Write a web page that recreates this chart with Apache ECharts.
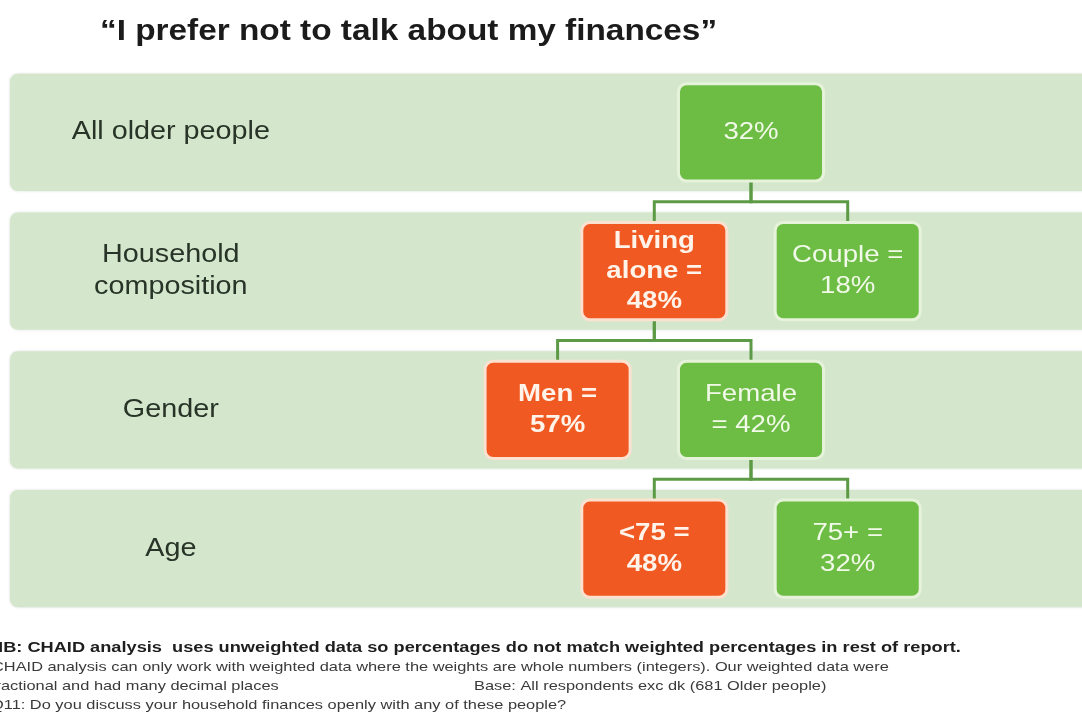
<!DOCTYPE html>
<html>
<head>
<meta charset="utf-8">
<script src="https://cdn.jsdelivr.net/npm/echarts@6.0.0/dist/echarts.min.js"></script>
<style>
  html, body { margin: 0; padding: 0; background: #ffffff; }
  #chart { width: 1082px; height: 719px; }
</style>
</head>
<body>
<div id="chart"></div>
<script>
// Splitting variable shown on each row of the CHAID tree
const rowLabels = ['All older people', 'Household\ncomposition', 'Gender', 'Age'];

// Tree nodes: caption, % who prefer not to talk about finances, parent node, above-average flag
const nodeCaptions = ['', 'Living\nalone =\n', 'Couple =\n', 'Men =\n', 'Female\n= ', '<75 =\n', '75+ =\n'];
const nodeValues = [32, 48, 18, 57, 42, 48, 32];
const nodeParents = [-1, 0, 0, 1, 1, 4, 4];
const nodeHigh = [false, true, false, true, false, true, false];

const titleText = '\u201CI prefer not to talk about my finances\u201D';
const noteBold = 'NB: CHAID analysis  uses unweighted data so percentages do not match weighted percentages in rest of report.';
const noteLines = [
  'CHAID analysis can only work with weighted data where the weights are whole numbers (integers). Our weighted data were',
  'fractional and had many decimal places',
  'Q11: Do you discuss your household finances openly with any of these people?'
];
const noteBase = 'Base: All respondents exc dk (681 Older people)';

// ---- tree layout: depth = row, column = parent column +/- 1 per sibling ----
const depth = [], column = [];
nodeParents.forEach((p, i) => {
  if (p < 0) { depth[i] = 0; column[i] = 0; return; }
  const siblings = nodeParents.map((q, j) => q === p ? j : -1).filter(j => j >= 0);
  const k = siblings.indexOf(i);
  depth[i] = depth[p] + 1;
  column[i] = column[p] + (k - (siblings.length - 1) / 2) * 2;
});

const STRETCH = 1.15;
const NOTE_STRETCH = 1.26;
const FONT = '"Liberation Sans", Arial, sans-serif';
const GREEN = '#6dbd45', ORANGE = '#f05a22', BAND = '#d4e7cc', LINK = '#5c9a46';
const NODE_W = 1.5, NODE_H = 0.70, BAND_H = 0.845;

function note(text, x, y, bold) {
  return {
    type: 'text', x: x, y: y, scaleX: bold ? 1.30 : NOTE_STRETCH,
    style: { text: text, x: 0, y: 0, textAlign: 'left', textVerticalAlign: 'middle',
             font: (bold ? 'bold 14px ' : '13px ') + FONT, fill: bold ? '#1e1e1e' : '#3a3a3a' }
  };
}

const chart = echarts.init(document.getElementById('chart'), null, { renderer: 'canvas' });

chart.setOption({
  animation: false,
  backgroundColor: '#ffffff',
  grid: { left: 10, right: 0, top: 63, bottom: 101 },
  xAxis: { type: 'value', min: -7.663, max: 3.423, show: false },
  yAxis: { type: 'category', data: rowLabels, inverse: true, show: false },
  graphic: [
    { type: 'text', x: 100, y: 32, scaleX: STRETCH,
      style: { text: titleText, x: 0, y: 0, textAlign: 'left', textVerticalAlign: 'middle',
               font: 'bold 29px ' + FONT, fill: '#1b1b1b' } },
    note(noteBold, -10, 648, true),
    note(noteLines[0], -8, 667, false),
    note(noteLines[1], -9, 686, false),
    note(noteBase, 474, 686, false),
    note(noteLines[2], -9, 705, false)
  ],
  series: [
    {
      // background band for each row, with the row's variable name
      type: 'custom',
      z: 1,
      silent: true,
      data: rowLabels.map((_, r) => [-6, r]),
      renderItem: function (params, api) {
        const c = api.coord([api.value(0), api.value(1)]);
        const h = api.size([0, 1])[1] * BAND_H;
        const cs = params.coordSys;
        return {
          type: 'group',
          children: [
            { type: 'rect', shape: { x: cs.x, y: c[1] - h / 2, width: cs.width + 12, height: h, r: 8 },
              style: { fill: BAND, shadowBlur: 3, shadowColor: 'rgba(60,90,50,0.18)' } },
            { type: 'text', x: c[0], y: c[1], scaleX: STRETCH,
              style: { text: rowLabels[params.dataIndex], x: 0, y: 0, textAlign: 'center',
                       textVerticalAlign: 'middle', font: '25px ' + FONT, fill: '#283428', lineHeight: 32 } }
          ]
        };
      }
    },
    {
      // elbow connectors from each parent node to its children
      type: 'custom',
      z: 2,
      silent: true,
      data: nodeParents.map((p, i) => p < 0 ? null : [column[i], depth[i], column[p], depth[p]]).filter(d => d),
      renderItem: function (params, api) {
        const c = api.coord([api.value(0), api.value(1)]);
        const p = api.coord([api.value(2), api.value(3)]);
        const nh = api.size([0, 1])[1] * NODE_H;
        const top = c[1] - nh / 2, bottom = p[1] + nh / 2, mid = (top + bottom) / 2;
        return {
          type: 'polyline',
          shape: { points: [[p[0], bottom], [p[0], mid], [c[0], mid], [c[0], top]] },
          style: { stroke: LINK, lineWidth: 3, fill: null }
        };
      }
    },
    {
      // tree nodes
      type: 'custom',
      z: 3,
      silent: true,
      data: nodeValues.map((v, i) => [column[i], depth[i], v, i]),
      renderItem: function (params, api) {
        const i = api.value(3);
        const c = api.coord([api.value(0), api.value(1)]);
        const w = api.size([NODE_W, 0])[0];
        const h = api.size([0, 1])[1] * NODE_H;
        const high = nodeHigh[i];
        const label = nodeCaptions[i] + api.value(2) + '%';
        const lines = label.split('\n').length;
        return {
          type: 'group',
          children: [
            { type: 'rect', shape: { x: c[0] - w / 2, y: c[1] - h / 2, width: w, height: h, r: 8 },
              style: { fill: high ? ORANGE : GREEN, stroke: high ? '#fbe1d0' : '#e6f3da', lineWidth: 3 } },
            { type: 'text', x: c[0], y: c[1], scaleX: STRETCH,
              style: { text: label, x: 0, y: 0,
                       textAlign: 'center', textVerticalAlign: 'middle',
                       font: (high ? 'bold ' : '') + '24px ' + FONT,
                       lineHeight: lines > 2 ? 30 : 31,
                       fill: high ? '#fff3ea' : '#f1f9e8' } }
          ]
        };
      }
    }
  ]
});
</script>
</body>
</html>
